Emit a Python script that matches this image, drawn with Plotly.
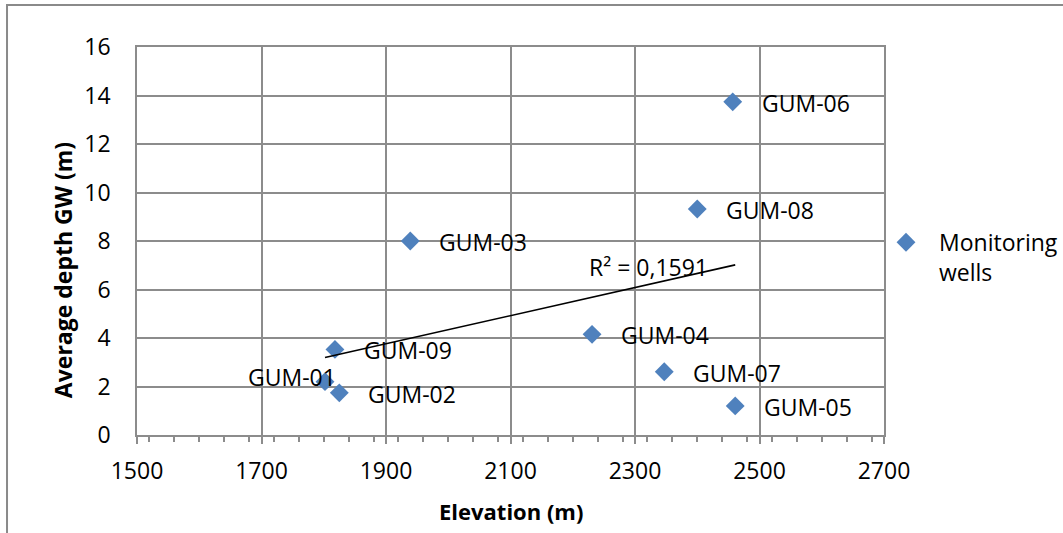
import numpy as np
import plotly.graph_objects as go

# ---- data ----
wells = ["GUM-01", "GUM-02", "GUM-03", "GUM-04", "GUM-05",
         "GUM-06", "GUM-07", "GUM-08", "GUM-09"]
elevation = [1802, 1825, 1939, 2231, 2461, 2457, 2347, 2400, 1818]
depth = [2.20, 1.74, 8.00, 4.15, 1.20, 13.74, 2.61, 9.32, 3.53]
r2_text = "R² = 0,1591"
x_ticks = [1500, 1700, 1900, 2100, 2300, 2500, 2700]
y_ticks = [0, 2, 4, 6, 8, 10, 12, 14, 16]

FONT = "Open Sans"
BLUE = "#4F81BD"
GRID = "#8c8c8c"

# linear trendline computed from data
xs = np.array(elevation, dtype=float)
ys = np.array(depth, dtype=float)
slope, intercept = np.polyfit(xs, ys, 1)
tx = np.array([xs.min(), xs.max()])
ty = slope * tx + intercept

fig = go.Figure()
fig.add_trace(go.Scatter(
    x=elevation, y=depth, mode="markers", name="Monitoring<br>wells",
    marker=dict(symbol="diamond", size=14.5, color=BLUE),
))
fig.add_trace(go.Scatter(
    x=tx, y=ty, mode="lines", showlegend=False,
    line=dict(color="black", width=1.6), hoverinfo="skip",
))

# data labels
for name, xv, yv in zip(wells, elevation, depth):
    if name == "GUM-01":
        fig.add_annotation(x=xv, y=yv, text=name, showarrow=False,
                           xanchor="right", yanchor="middle", xshift=13, yshift=5,
                           font=dict(family=FONT, size=23, color="black"))
    else:
        fig.add_annotation(x=xv, y=yv, text=name, showarrow=False,
                           xanchor="left", yanchor="middle", xshift=27, yshift=-1,
                           font=dict(family=FONT, size=23, color="black"))

# R² label
fig.add_annotation(x=2321, y=6.94, text=r2_text, showarrow=False,
                   xanchor="center", yanchor="middle",
                   font=dict(family=FONT, size=23, color="black"))

# axis titles
fig.add_annotation(xref="paper", yref="paper", x=0.5, y=-0.196,
                   text="<b>Elevation (m)</b>", showarrow=False,
                   xanchor="center", yanchor="middle",
                   font=dict(family=FONT, size=22, color="black"))
fig.add_annotation(xref="paper", yref="paper", x=-0.099, y=0.425,
                   text="<b>Average depth GW (m)</b>", showarrow=False,
                   textangle=-90, xanchor="center", yanchor="middle",
                   font=dict(family=FONT, size=23, color="black"))

# outer chart border
fig.add_shape(type="rect", xref="paper", yref="paper",
              x0=-0.174, x1=1.249, y0=-0.2835, y1=1.108,
              line=dict(color="#8a8a8a", width=2), fillcolor="rgba(0,0,0,0)",
              layer="below")

fig.update_xaxes(
    range=[1500, 2700], tickvals=x_ticks, ticktext=[str(v) for v in x_ticks],
    showgrid=True, gridcolor=GRID, gridwidth=1.5,
    showline=True, linecolor=GRID, linewidth=1.5, mirror=True,
    ticks="outside", ticklen=7, tickcolor=GRID, tickwidth=1.5,
    minor=dict(dtick=40, ticks="outside", ticklen=5, tickcolor=GRID,
               tickwidth=1.5, showgrid=False),
    tickfont=dict(family=FONT, size=23, color="black"),
    ticklabelstandoff=8, zeroline=False, automargin=False,
)
fig.update_yaxes(
    range=[0, 16], tickvals=y_ticks, ticktext=[str(v) for v in y_ticks],
    showgrid=True, gridcolor=GRID, gridwidth=1.5,
    showline=True, linecolor=GRID, linewidth=1.5, mirror=True,
    ticks="", tickfont=dict(family=FONT, size=23, color="black"),
    ticklabelstandoff=20, zeroline=False, automargin=False,
)

fig.update_layout(
    width=1063, height=533,
    margin=dict(l=137, r=179, t=47, b=98, autoexpand=False),
    paper_bgcolor="white", plot_bgcolor="white",
    font=dict(family=FONT, size=23, color="black"),
    legend=dict(x=0.9853, xanchor="left", y=0.552, yanchor="top",
                valign="top", itemwidth=56,
                font=dict(family=FONT, size=23, color="black"),
                bgcolor="rgba(0,0,0,0)", tracegroupgap=0),
    showlegend=True,
)

fig.write_html("out.html")
